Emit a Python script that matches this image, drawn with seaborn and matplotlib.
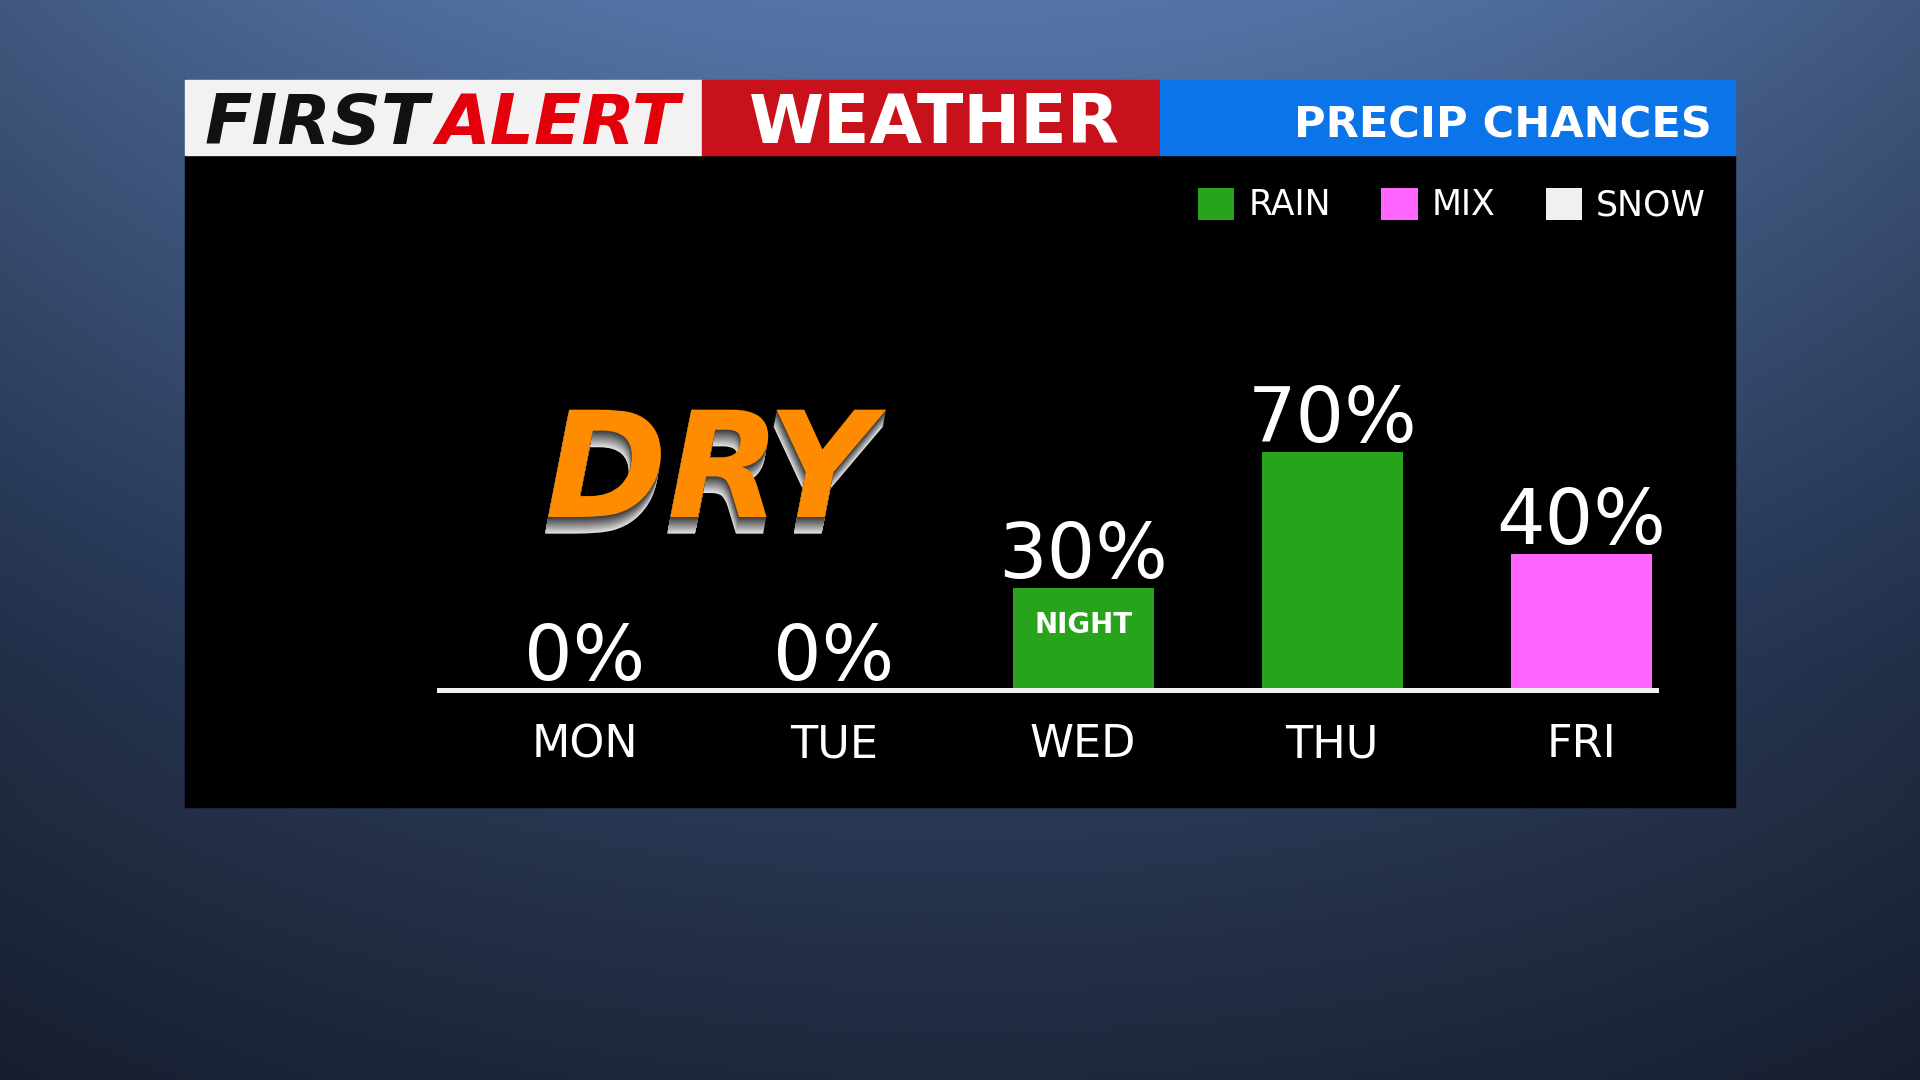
import numpy as np
import pandas as pd
import seaborn as sns
import matplotlib.pyplot as plt
import matplotlib.patheffects as pe
from matplotlib.patches import Rectangle, Patch

# ---- data ----
days = ['MON', 'TUE', 'WED', 'THU', 'FRI']
chances = [0, 0, 30, 70, 40]
precip = ['RAIN', 'RAIN', 'RAIN', 'RAIN', 'MIX']
notes = ['', '', 'NIGHT', '', '']
legend_types = ['RAIN', 'MIX', 'SNOW']
type_colors = {'RAIN': '#28a41c', 'MIX': '#ff66ff', 'SNOW': '#f0f0f0'}

PX = 0.72  # points per pixel at dpi 100

plt.rcParams['font.family'] = ['DejaVu Sans']

fig = plt.figure(figsize=(19.2, 10.8), dpi=100)

# background "rainy" gradient
bg = fig.add_axes([0, 0, 1, 1])
stops = [0, 0.45, 0.62, 0.75, 1]
cols = [(86, 117, 168), (54, 77, 116), (44, 62, 96), (42, 56, 84), (30, 40, 62)]
yy = np.linspace(0, 1, 270)
xx = np.linspace(0, 1, 480)
rows = np.stack([np.interp(yy, stops, [c[i] for c in cols]) for i in range(3)], axis=-1)
vign = 1 - 0.25 * ((xx - 0.5) / 0.5) ** 2
img = rows[:, None, :] * vign[None, :, None] / 255
bg.imshow(np.clip(img, 0, 1), extent=(0, 1920, 1080, 0), aspect='auto', interpolation='bilinear')
bg.set_xlim(0, 1920)
bg.set_ylim(1080, 0)
bg.axis('off')

# panel + header
bg.add_patch(Rectangle((185, 155), 1550, 652, color='black'))
bg.add_patch(Rectangle((185, 80), 517, 75, color='#f2f2f2'))
bg.add_patch(Rectangle((702, 80), 458, 75, color='#c8111a'))
bg.add_patch(Rectangle((1160, 80), 575, 75, color='#0a74e8'))
bg.text(205, 144, 'FIRST', fontsize=50, fontweight='bold', fontstyle='italic', color='#111111', va='baseline')
bg.text(437, 144, 'ALERT', fontsize=50, fontweight='bold', fontstyle='italic', color='#e3000b', va='baseline')
bg.text(934, 143, 'WEATHER', fontsize=49, fontweight='bold', color='white', ha='center', va='baseline')
bg.text(1712, 137, 'PRECIP CHANCES', fontsize=31, fontweight='bold', color='white', ha='right', va='baseline')

handles = [Patch(facecolor=type_colors[t], label=t) for t in legend_types]
fig.legend(handles=handles, ncol=3, loc='center right', bbox_to_anchor=(1706 / 1920, 1 - 205 / 1080),
           frameon=False, fontsize=25, labelcolor='white', handlelength=1.05, handleheight=1.05,
           handletextpad=0.4, columnspacing=1.45, borderpad=0, borderaxespad=0)

# ---- bar chart ----
ax = fig.add_axes([439 / 1920, (1080 - 690) / 1080, (1656 - 439) / 1920, 340 / 1080])
df = pd.DataFrame({'day': days, 'chance': chances, 'type': precip})
sns.barplot(data=df, x='day', y='chance', hue='type', palette=type_colors, dodge=False,
            width=0.566, saturation=1, legend=False, linewidth=0, ax=ax)
ax.set_xlim(-0.586, 4.30)
ax.set_ylim(0, 100)
ax.axis('off')
ax.axhline(0, color='#f2f2f2', lw=5 * PX, clip_on=False, zorder=3)

for i, (d, v, n) in enumerate(zip(days, chances, notes)):
    ax.annotate(f'{v}%', xy=(i, v), xytext=(0, 10 * PX), textcoords='offset points',
                ha='center', va='baseline', fontsize=55, color='white', annotation_clip=False)
    ax.annotate(d, xy=(i, 0), xytext=(0, -67 * PX), textcoords='offset points',
                ha='center', va='baseline', fontsize=32, color='white', annotation_clip=False)
    if n:
        ax.annotate(n, xy=(i, v), xytext=(0, -45 * PX), textcoords='offset points',
                    ha='center', va='baseline', fontsize=20, fontweight='bold', color='white')

# DRY over the dry days, grey extrusion via stacked shadows
dry_y = (690 - 517) / 3.4
extrude = [pe.SimplePatchShadow(offset=(-0.15 * k, -k * 0.8), shadow_rgbFace=(0.2 + 0.045 * k,) * 3, alpha=1)
           for k in range(15, 0, -1)]
ax.annotate('DRY', xy=(0.5, dry_y), ha='center', va='baseline', fontsize=106,
            fontweight='bold', fontstyle='italic', color='#ff8c00',
            path_effects=extrude + [pe.Normal()])

fig.savefig('out.png', dpi=100)
